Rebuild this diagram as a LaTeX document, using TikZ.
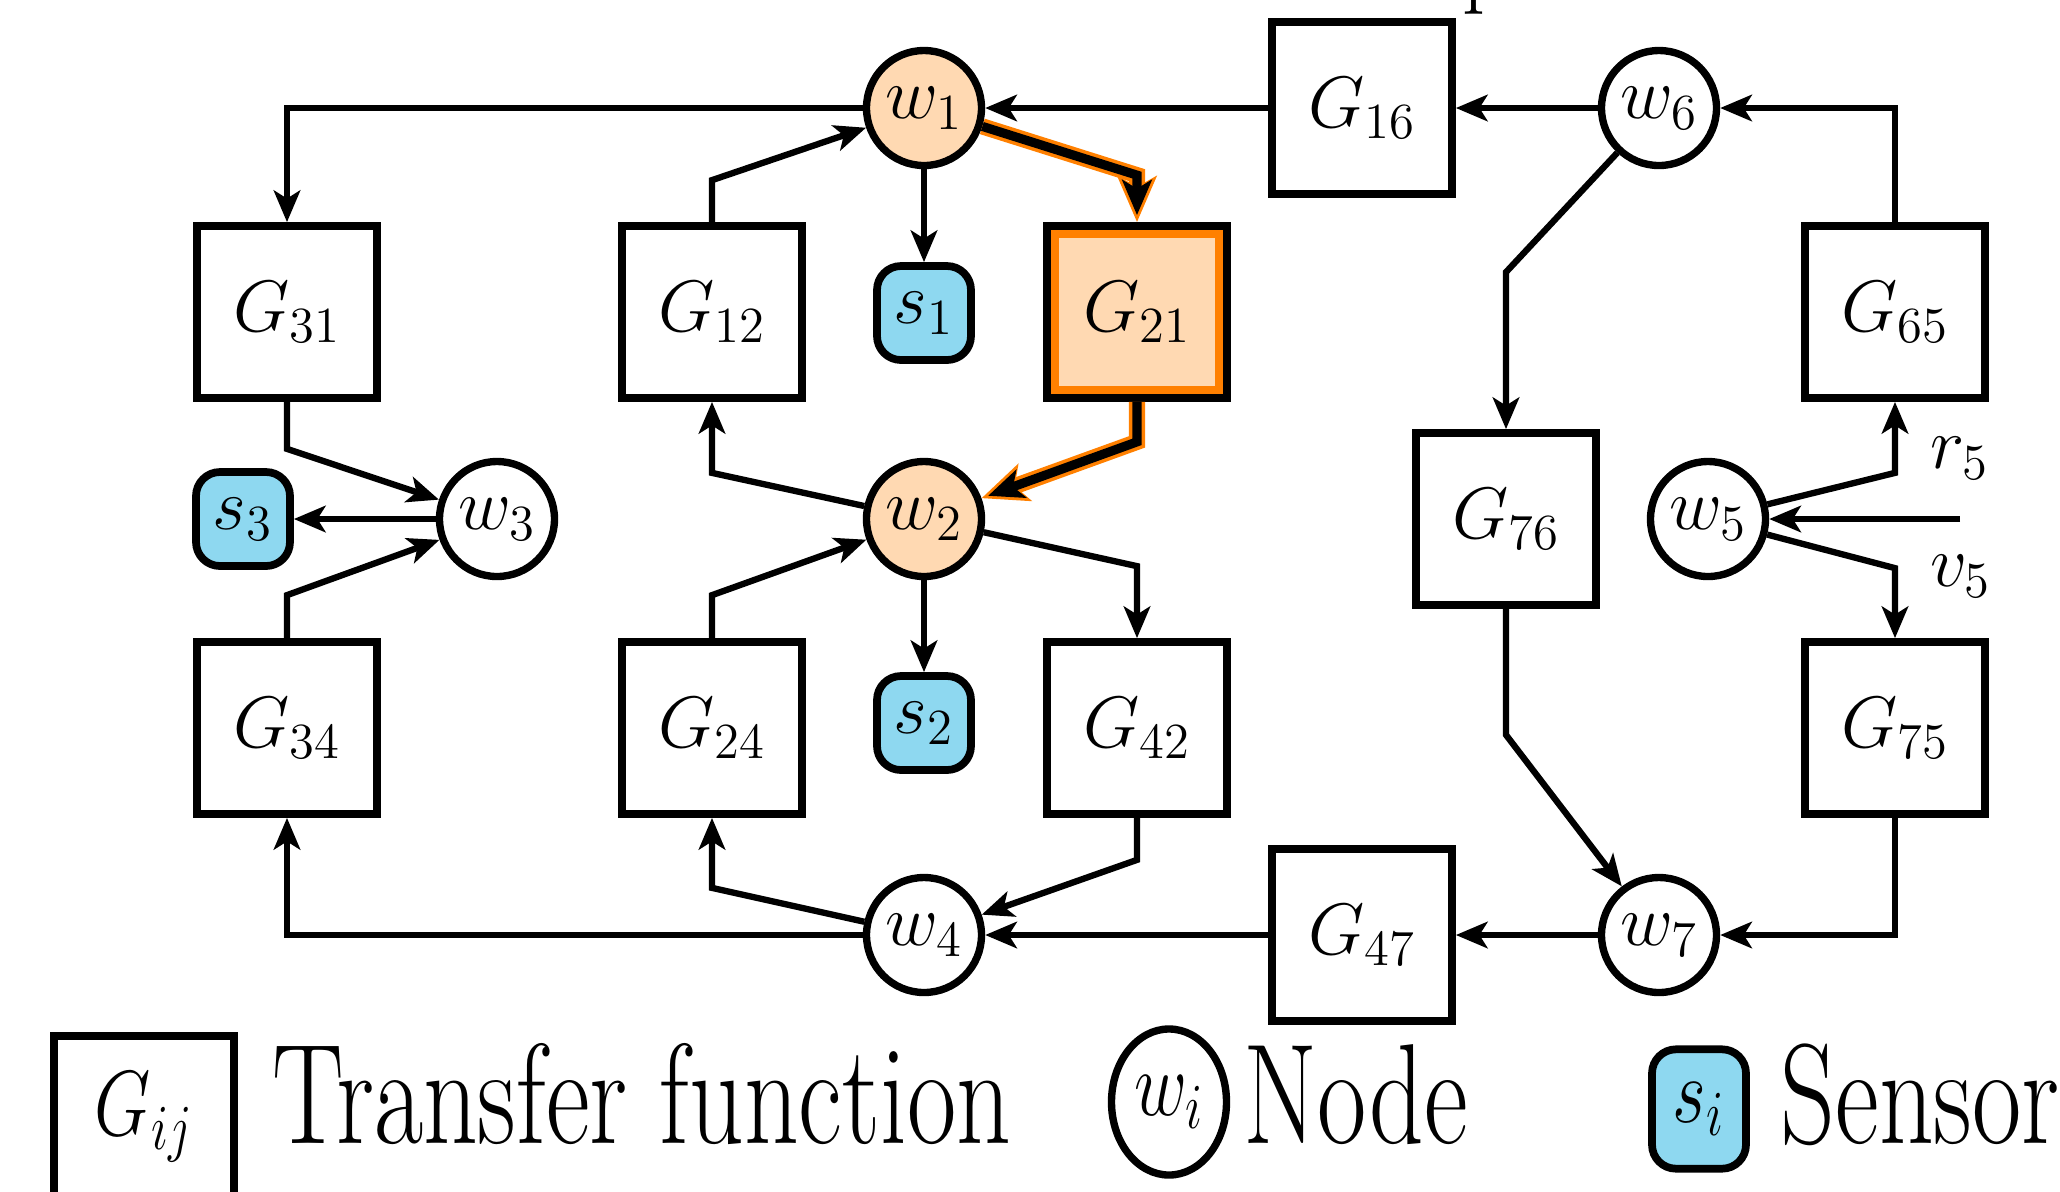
\documentclass[tikz,border=0pt]{standalone}
\usepackage{amssymb}
\usepackage{color}
\usepackage{tikz}
\usetikzlibrary{arrows.meta}

\begin{document}
\begin{tikzpicture}[
    font=\fontsize{21.5}{25}\selectfont,
    tf/.style={draw, line width=2.2pt, fill=white, minimum width=1.80cm, minimum height=1.72cm, inner sep=0pt},
    knoten/.style={draw, circle, line width=2.1pt, minimum size=1.15cm, inner sep=0pt},
    sensor/.style={draw, line width=2.2pt, rounded corners=0.24cm, fill=sensorblue, minimum size=0.94cm, inner sep=0pt},
    pfeil/.style={line width=1.8pt, -{Stealth[length=9pt, width=7.5pt, inset=2.3pt]}},
    legende/.style={anchor=base west, inner sep=0pt, yscale=1.33, font=\fontsize{30.5}{36}\selectfont}
  ]
    \definecolor{sensorblue}{HTML}{8ED8F0}
    \useasboundingbox (0,0) rectangle (20.60,-11.91);  %Rahmen
    \node[anchor=base west, inner sep=0pt, font=\fontsize{26}{31}\selectfont] (titel) at (14.62,0.04) {p};  %abgeschnittener Titel

    \foreach \i/\x/\y/\f in {1/9.24/1.08/orange!30, 2/9.24/5.19/orange!30, 3/4.97/5.19/white, 4/9.24/9.35/white,
                            5/17.08/5.19/white, 6/16.59/1.08/white, 7/16.59/9.35/white}
      \node[knoten, fill=\f] (w\i) at (\x,-\y) {$w_{\i}$};  %Knoten
    \foreach \ij/\x/\y in {31/2.87/3.12, 12/7.12/3.12, 34/2.87/7.28, 24/7.12/7.28, 42/11.37/7.28,
                          16/13.62/1.08, 47/13.62/9.35, 76/15.06/5.19, 65/18.95/3.12, 75/18.95/7.28}
      \node[tf] (G\ij) at (\x,-\y) {$G_{\ij}$};  %Uebertragungsfunktionen
    \node[tf, fill=orange!30] (G21) at (11.37,-3.12) {$G_{21}$};
    \draw[orange, line width=2.4pt] ([shift={(0.12,-0.12)}]G21.north west) rectangle ([shift={(-0.12,0.12)}]G21.south east);  %Rahmen innen
    \foreach \i/\x/\y in {1/9.24/3.13, 2/9.24/7.23, 3/2.43/5.19}
      \node[sensor] (s\i) at (\x,-\y) {$s_{\i}$};  %Sensoren

    % linker Teil
    \draw[pfeil] (G16) -- (w1);
    \draw[pfeil] (w1.west) -| (G31.north);
    \draw[pfeil] (G12.north) -- ++(0,0.42) -- (w1);
    \draw[pfeil] (w1) -- (s1);
    \draw[pfeil] (G31.south) -- ++(0,-0.47) -- (w3);
    \draw[pfeil] (G34.north) -- ++(0,0.43) -- (w3);
    \draw[pfeil] (w3) -- (s3);
    \draw[pfeil] (w2) -- ([yshift=-0.71cm]G12.south) -- (G12.south);
    \draw[pfeil] (G24.north) -- ++(0,0.43) -- (w2);
    \draw[pfeil] (w2) -- ([yshift=0.72cm]G42.north) -- (G42.north);
    \draw[pfeil] (w2) -- (s2);
    \draw[pfeil] (w4) -- ([yshift=-0.70cm]G24.south) -- (G24.south);
    \draw[pfeil] (G42.south) -- ++(0,-0.42) -- (w4);
    \draw[pfeil] (w4.west) -| (G34.south);
    \draw[pfeil] (G47) -- (w4);

    % hervorgehobener Pfad
    \draw[orange, line width=4.6pt, -{Stealth[length=13pt, width=11pt, inset=3pt]}] (w1) -- ([yshift=0.47cm]G21.north) -- (G21.north);
    \draw[line width=2.6pt, shorten >=2pt, -{Stealth[length=10pt, width=8.4pt, inset=2.5pt]}] (w1) -- ([yshift=0.47cm]G21.north) -- (G21.north);
    \draw[orange, line width=4.6pt, -{Stealth[length=13pt, width=11pt, inset=3pt]}] (G21.south) -- ([yshift=-0.40cm]G21.south) -- (w2);
    \draw[line width=2.6pt, shorten >=2pt, -{Stealth[length=10pt, width=8.4pt, inset=2.5pt]}] (G21.south) -- ([yshift=-0.40cm]G21.south) -- (w2);

    % rechter Teil
    \draw[pfeil] (w6) -- (G16);
    \draw[pfeil] (G65.north) |- (w6.east);
    \draw[pfeil] (w6) -- ([yshift=1.57cm]G76.north) -- (G76.north);
    \draw[pfeil] (G76.south) -- ++(0,-1.26) -- (w7);
    \draw[pfeil] (G75.south) |- (w7.east);
    \draw[pfeil] (w7) -- (G47);
    \draw[pfeil] (w5) -- ([yshift=-0.71cm]G65.south) -- (G65.south);
    \draw[pfeil] (w5) -- ([yshift=0.70cm]G75.north) -- (G75.north);
    \coordinate (ein5) at (19.60,-5.19);  %Eingang
    \draw[pfeil] (ein5) -- (w5);
    \node (r5) at (19.60,-4.58) {$r_5$};
    \node (v5) at (19.61,-5.76) {$v_5$};

    % Legende
    \node[tf, yscale=1.27, text depth=0.65cm] (Gij) at (1.44,-11.45) {$G_{ij}$};
    \node[legende] (tftext) at (2.72,-11.43) {Transfer function};
    \node[knoten, yscale=1.27] (wi) at (11.69,-11.02) {$w_i$};
    \node[legende] (wtext) at (12.43,-11.43) {Node};
    \node[sensor, yscale=1.27] (si) at (16.99,-11.09) {$s_i$};
    \node[legende] (stext) at (17.80,-11.43) {Sensor};
\end{tikzpicture}
\end{document}
